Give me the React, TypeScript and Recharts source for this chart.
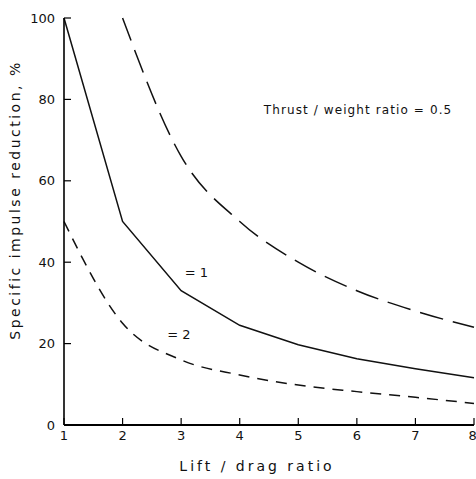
import { LineChart, Line, XAxis, YAxis, ReferenceDot } from 'recharts'

// lift/drag ratio on the x axis
const liftDrag = [1, 2, 3, 4, 5, 6, 7, 8]
// specific impulse reduction (%) for each thrust/weight ratio
const twHalf = [null, 100, 66, 50, 40, 33, 28, 24]
const twOne = [100, 50, 33, 24.5, 19.7, 16.3, 13.8, 11.6]
const twTwo = [50, 25, 16, 12.3, 9.8, 8.2, 6.8, 5.3]

const xTicks = [1, 2, 3, 4, 5, 6, 7, 8]
const yTicks = [0, 20, 40, 60, 80, 100]

const FONT = '"DejaVu Sans", sans-serif'

const chartData = liftDrag.map((x, i) => ({
  x,
  half: twHalf[i],
  one: twOne[i],
  two: twTwo[i],
}))

const noteLabel = (text: string, size: number, spacing: number) => (props: any) => {
  const { viewBox } = props
  return (
    <text
      x={viewBox.x}
      y={viewBox.y}
      textAnchor="middle"
      dominantBaseline="central"
      fontFamily={FONT}
      fontSize={size}
      letterSpacing={spacing}
      fill="#111"
    >
      {text}
    </text>
  )
}

export default function App() {
  return (
    <div style={{ position: 'absolute', left: 0, top: 0, background: '#fff' }}>
      <LineChart
        width={476}
        height={479}
        data={chartData}
        margin={{ top: 18, right: 2, left: 0, bottom: 0 }}
      >
        <XAxis
          type="number"
          dataKey="x"
          domain={[1, 8]}
          ticks={xTicks}
          height={54}
          axisLine={{ stroke: '#000', strokeWidth: 2 }}
          tickLine={{ stroke: '#000', strokeWidth: 1.2 }}
          tickSize={-7}
          tickMargin={13}
          tick={{ fontSize: 13, fill: '#111', fontFamily: FONT }}
          label={(props: any) => {
            const vb = props.viewBox
            return (
              <text
                x={257}
                y={vb.y + 41}
                textAnchor="middle"
                dominantBaseline="central"
                fontFamily={FONT}
                fontSize={14}
                letterSpacing={3}
                fill="#111"
              >
                Lift / drag ratio
              </text>
            )
          }}
        />
        <YAxis
          type="number"
          domain={[0, 100]}
          ticks={yTicks}
          width={64}
          axisLine={{ stroke: '#000', strokeWidth: 1.6 }}
          tickLine={{ stroke: '#000', strokeWidth: 1.2 }}
          tickSize={-7}
          tickMargin={16}
          tick={{ fontSize: 13, fill: '#111', fontFamily: FONT }}
          label={() => (
            <text
              x={15}
              y={200}
              transform="rotate(-90 15 200)"
              textAnchor="middle"
              dominantBaseline="central"
              fontFamily={FONT}
              fontSize={14}
              letterSpacing={2.5}
              fill="#111"
            >
              Specific impulse reduction, %
            </text>
          )}
        />
        <Line
          dataKey="half"
          type="monotone"
          stroke="#111"
          strokeWidth={1.5}
          strokeDasharray="24 10"
          dot={false}
          isAnimationActive={false}
        />
        <Line
          dataKey="one"
          type="linear"
          stroke="#111"
          strokeWidth={1.5}
          dot={false}
          isAnimationActive={false}
        />
        <Line
          dataKey="two"
          type="monotone"
          stroke="#111"
          strokeWidth={1.5}
          strokeDasharray="11 8"
          dot={false}
          isAnimationActive={false}
        />
        <ReferenceDot x={6.02} y={77.5} r={0} label={noteLabel('Thrust / weight ratio = 0.5', 12, 1.1)} />
        <ReferenceDot x={3.26} y={37.5} r={0} label={noteLabel('= 1', 13, 0)} />
        <ReferenceDot x={2.96} y={22.2} r={0} label={noteLabel('= 2', 13, 0)} />
      </LineChart>
    </div>
  )
}
